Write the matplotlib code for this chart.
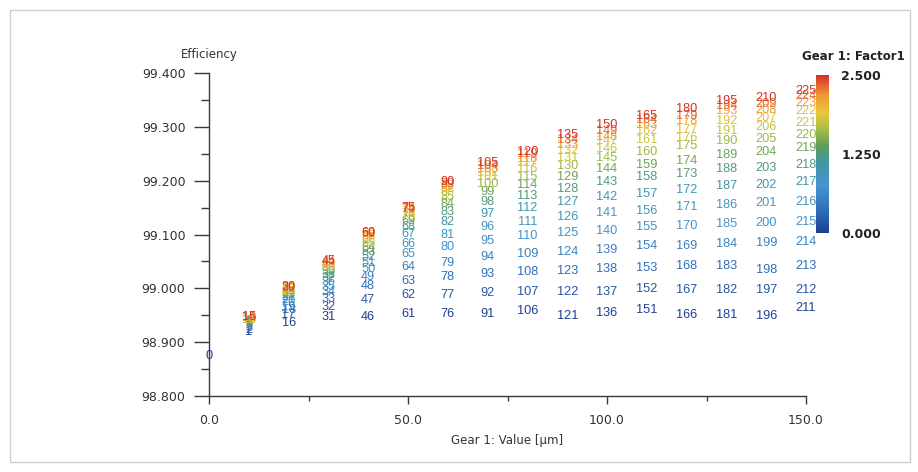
import matplotlib
matplotlib.use("Agg")
import matplotlib.pyplot as plt
from matplotlib.colors import LinearSegmentedColormap, Normalize
from matplotlib.cm import ScalarMappable
from matplotlib.patches import Rectangle
from matplotlib.ticker import MultipleLocator, FormatStrFormatter

# Gear 1 deviation values [µm] (one column of runs per value)
gear_values = [10, 20, 30, 40, 50, 60, 70, 80, 90, 100, 110, 120, 130, 140, 150]

# Factor1 levels used at each value
factor_levels = [0.0, 0.179, 0.357, 0.536, 0.714, 0.893, 1.071, 1.25,
                 1.429, 1.607, 1.786, 1.964, 2.143, 2.321, 2.5]

# Reference run at value 0
base_value = 0
base_factor = 0.0
base_efficiency = 98.875

# Efficiency per value, one entry per factor level
eff_10 = [98.918, 98.923, 98.927, 98.931, 98.933, 98.935, 98.936, 98.938,
          98.940, 98.942, 98.942, 98.944, 98.944, 98.946, 98.946]
eff_20 = [98.936, 98.950, 98.959, 98.966, 98.974, 98.979, 98.983, 98.987,
          98.991, 98.993, 98.994, 98.996, 98.998, 99.000, 99.002]
eff_30 = [98.946, 98.966, 98.981, 98.993, 99.002, 99.011, 99.019, 99.024,
          99.030, 99.035, 99.039, 99.043, 99.045, 99.049, 99.050]
eff_40 = [98.946, 98.979, 99.004, 99.021, 99.035, 99.047, 99.058, 99.067,
          99.075, 99.082, 99.088, 99.093, 99.097, 99.101, 99.103]
eff_50 = [98.953, 98.987, 99.013, 99.039, 99.064, 99.082, 99.101, 99.114,
          99.125, 99.133, 99.138, 99.142, 99.146, 99.148, 99.150]
eff_60 = [98.953, 98.987, 99.021, 99.047, 99.077, 99.099, 99.123, 99.142,
          99.157, 99.170, 99.179, 99.185, 99.191, 99.194, 99.198]
eff_70 = [98.953, 98.991, 99.026, 99.058, 99.088, 99.114, 99.138, 99.161,
          99.179, 99.194, 99.206, 99.215, 99.222, 99.228, 99.232]
eff_80 = [98.957, 98.993, 99.030, 99.064, 99.097, 99.123, 99.150, 99.172,
          99.192, 99.207, 99.222, 99.232, 99.241, 99.249, 99.254]
eff_90 = [98.948, 98.993, 99.032, 99.067, 99.103, 99.133, 99.161, 99.185,
          99.207, 99.228, 99.243, 99.256, 99.267, 99.275, 99.284]
eff_100 = [98.955, 98.994, 99.035, 99.071, 99.107, 99.140, 99.170, 99.198,
           99.222, 99.243, 99.258, 99.273, 99.282, 99.292, 99.303]
eff_110 = [98.959, 98.998, 99.037, 99.078, 99.114, 99.144, 99.176, 99.206,
           99.230, 99.254, 99.275, 99.292, 99.303, 99.312, 99.321]
eff_120 = [98.951, 98.996, 99.041, 99.078, 99.116, 99.151, 99.183, 99.213,
           99.237, 99.264, 99.280, 99.295, 99.310, 99.321, 99.333]
eff_130 = [98.951, 98.996, 99.041, 99.082, 99.120, 99.155, 99.191, 99.221,
           99.247, 99.273, 99.293, 99.310, 99.329, 99.338, 99.348]
eff_140 = [98.948, 98.996, 99.034, 99.084, 99.121, 99.159, 99.192, 99.224,
           99.254, 99.278, 99.299, 99.316, 99.331, 99.342, 99.353]
eff_150 = [98.963, 98.996, 99.041, 99.086, 99.123, 99.161, 99.198, 99.230,
           99.260, 99.284, 99.307, 99.329, 99.344, 99.357, 99.366]

efficiency_by_value = [eff_10, eff_20, eff_30, eff_40, eff_50, eff_60, eff_70,
                       eff_80, eff_90, eff_100, eff_110, eff_120, eff_130,
                       eff_140, eff_150]

x_ticks = [0, 50, 100, 150]
y_ticks = [98.8, 98.9, 99.0, 99.1, 99.2, 99.3, 99.4]
cbar_ticks = [0.0, 1.25, 2.5]

# Blue -> teal -> green -> yellow -> red scale for Factor1
cmap = LinearSegmentedColormap.from_list(
    "factor",
    [(0.00, "#1c3f92"), (0.14, "#2f6db8"), (0.30, "#4595cf"),
     (0.44, "#3f97a6"), (0.55, "#5f9c58"), (0.66, "#a8bd45"),
     (0.76, "#e6c83a"), (0.87, "#ef9a34"), (1.00, "#d6302a")])
norm = Normalize(vmin=0.0, vmax=2.5)

W, H = 918, 472
fig = plt.figure(figsize=(W / 100, H / 100), dpi=100)
fig.patch.set_facecolor("white")

# thin frame around the whole chart
fig.patches.append(Rectangle((10 / W, 10 / H), 900 / W, 452 / H,
                             transform=fig.transFigure, fill=False,
                             edgecolor="#cfcfcf", linewidth=1.0))

ax = fig.add_axes([209 / W, 76 / H, 597 / W, 323 / H])
ax.set_xlim(0, 150)
ax.set_ylim(98.8, 99.4)
for side in ("top", "right"):
    ax.spines[side].set_visible(False)
for side in ("left", "bottom"):
    ax.spines[side].set_color("#3a3a3a")
    ax.spines[side].set_linewidth(1.0)

ax.set_xticks(x_ticks)
ax.xaxis.set_minor_locator(MultipleLocator(25))
ax.xaxis.set_major_formatter(FormatStrFormatter("%.1f"))
ax.set_yticks(y_ticks)
ax.yaxis.set_minor_locator(MultipleLocator(0.05))
ax.yaxis.set_major_formatter(FormatStrFormatter("%.3f"))

ax.tick_params(axis="y", which="major", length=11, width=1.0,
               color="#3a3a3a", labelsize=9, labelcolor="#333333", pad=6)
ax.tick_params(axis="y", which="minor", length=6, width=1.0, color="#3a3a3a")
ax.tick_params(axis="x", which="major", length=6, width=1.0,
               color="#3a3a3a", labelsize=9, labelcolor="#333333", pad=7)
ax.tick_params(axis="x", which="minor", length=3.5, width=1.0, color="#3a3a3a")

ax.set_xlabel("Gear 1: Value [µm]", fontsize=8.5, color="#333333")
ax.xaxis.set_label_coords(0.5, -0.137)
ax.xaxis.label.set_va("center")
ax.set_ylabel("Efficiency", fontsize=8.5, color="#333333", rotation=0)
ax.yaxis.set_label_coords(0.0, 1.056)
ax.yaxis.label.set_va("center")
ax.yaxis.label.set_ha("center")

label_style = dict(ha="center", va="center", fontsize=9.2,
                   family="Liberation Sans", clip_on=False)

# run numbers drawn at (value, efficiency), coloured by Factor1
ax.text(base_value, base_efficiency, "0",
        color=cmap(norm(base_factor)), **label_style)
run = 1
for value, effs in zip(gear_values, efficiency_by_value):
    for factor, eff in zip(factor_levels, effs):
        ax.text(value, eff, str(run), color=cmap(norm(factor)), **label_style)
        run += 1

# colour bar for Factor1
cax = fig.add_axes([816 / W, (H - 233) / H, 13 / W, 158 / H])
sm = ScalarMappable(norm=norm, cmap=cmap)
cbar = fig.colorbar(sm, cax=cax, ticks=cbar_ticks)
cbar.outline.set_visible(False)
cbar.ax.set_yticklabels(["%.3f" % t for t in cbar_ticks],
                        fontweight="bold", fontsize=9, color="#222222")
cbar.ax.tick_params(length=0, pad=9)
fig.text(905 / W, 1 - 57 / H, "Gear 1: Factor1", ha="right", va="center",
         fontsize=8.5, fontweight="bold", color="#222222")

fig.savefig("out.png", dpi=100)
